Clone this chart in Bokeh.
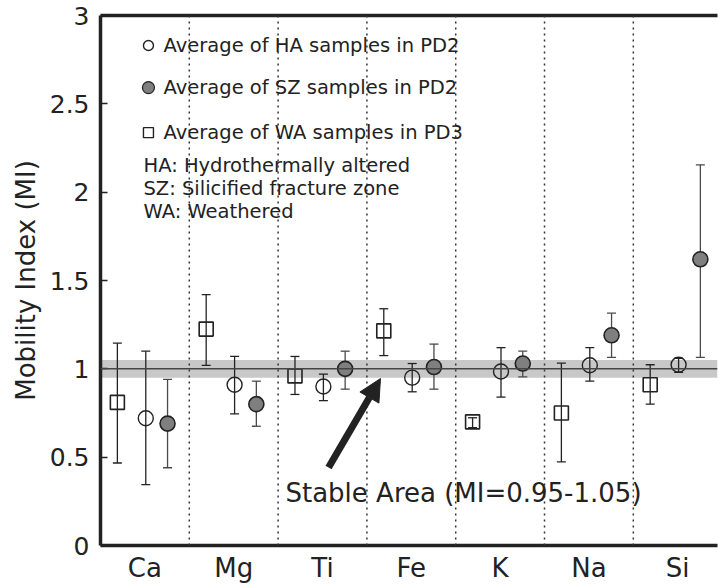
from bokeh.plotting import figure
from bokeh.models import (Range1d, FixedTicker, LinearAxis, Span, BoxAnnotation,
                          Whisker, TeeHead, Arrow, NormalHead, ColumnDataSource, Label)
from bokeh.embed import file_html
from bokeh.resources import INLINE

# ---------------- data ----------------
elements = ["Ca", "Mg", "Ti", "Fe", "K", "Na", "Si"]

ha_mean = [0.72, 0.91, 0.90, 0.95, 0.985, 1.02, 1.023]
ha_lo = [0.345, 0.745, 0.82, 0.87, 0.84, 0.93, 0.98]
ha_hi = [1.10, 1.07, 0.97, 1.03, 1.12, 1.12, 1.06]

sz_mean = [0.69, 0.80, 1.00, 1.01, 1.03, 1.19, 1.62]
sz_lo = [0.44, 0.675, 0.885, 0.885, 0.955, 1.065, 1.065]
sz_hi = [0.94, 0.93, 1.10, 1.14, 1.10, 1.315, 2.155]

wa_mean = [0.81, 1.225, 0.96, 1.215, 0.70, 0.75, 0.91]
wa_lo = [0.467, 1.02, 0.855, 1.075, 0.667, 0.473, 0.80]
wa_hi = [1.145, 1.42, 1.07, 1.34, 0.723, 1.032, 1.023]

y_ticks = [0, 0.5, 1, 1.5, 2, 2.5, 3]
y_tick_labels = ["0", "0.5", "1", "1.5", "2", "2.5", "3"]

stable_low, stable_high = 0.95, 1.05

legend_entries = ["Average of HA samples in PD2",
                  "Average of SZ samples in PD2",
                  "Average of WA samples in PD3"]
definitions = ["HA: Hydrothermally altered",
               "SZ: Silicified fracture zone",
               "WA: Weathered"]
stable_label = "Stable Area (MI=0.95-1.05)"

# ---------------- styling ----------------
FONT = "DejaVu Sans"
DARK = "#222222"
n = len(elements)
centers = [i + 0.5 for i in range(n)]
off_wa, off_ha, off_sz = -0.31, 0.01, 0.255

p = figure(width=719, height=588, output_backend="svg", toolbar_location=None,
           x_range=Range1d(0, 6.948), y_range=Range1d(0, 3),
           min_border_left=100, min_border_right=2, min_border_top=15,
           min_border_bottom=43)
p.outline_line_color = None
p.xgrid.visible = False
p.ygrid.visible = False
p.background_fill_color = "white"

# axes
xa = p.xaxis[0]
xa.ticker = FixedTicker(ticks=centers)
xa.major_label_overrides = {c: e for c, e in zip(centers, elements)}
xa.major_tick_line_color = None
xa.minor_tick_line_color = None
xa.axis_line_width = 3.5
xa.axis_line_color = DARK
xa.major_label_text_font = FONT
xa.major_label_text_font_size = "26px"
xa.major_label_text_color = DARK
xa.major_label_standoff = 1

ya = p.yaxis[0]
ya.ticker = FixedTicker(ticks=y_ticks)
ya.major_label_overrides = {t: l for t, l in zip(y_ticks, y_tick_labels)}
ya.major_tick_in = 7
ya.major_tick_out = 0
ya.major_tick_line_width = 1.5
ya.major_tick_line_color = DARK
ya.minor_tick_line_color = None
ya.axis_line_width = 3.5
ya.axis_line_color = DARK
ya.major_label_text_font = FONT
ya.major_label_text_font_size = "25px"
ya.major_label_text_color = DARK
ya.major_label_standoff = 11
ya.axis_label = "Mobility Index (MI)"
ya.axis_label_text_font = FONT
ya.axis_label_text_font_size = "26px"
ya.axis_label_text_font_style = "normal"
ya.axis_label_text_color = DARK
ya.axis_label_standoff = 6

top = LinearAxis(ticker=FixedTicker(ticks=[]), axis_line_width=3.5,
                 axis_line_color=DARK, major_tick_line_color=None,
                 minor_tick_line_color=None)
p.add_layout(top, "above")

# stable band and reference line
p.add_layout(BoxAnnotation(bottom=stable_low, top=stable_high,
                           fill_color="#c8c8c8", fill_alpha=1.0, line_color=None,
                           level="underlay"))
p.add_layout(Span(location=1.0, dimension="width", line_color="#444444",
                  line_width=1.5))

# dotted separators
for i in range(1, n):
    p.add_layout(Span(location=i, dimension="height", line_color="#333333",
                      line_width=1.5, line_dash="2 4"))

# sources
src_wa = ColumnDataSource(dict(x=[c + off_wa for c in centers], y=wa_mean,
                               lo=wa_lo, hi=wa_hi))
src_ha = ColumnDataSource(dict(x=[c + off_ha for c in centers], y=ha_mean,
                               lo=ha_lo, hi=ha_hi))
src_sz = ColumnDataSource(dict(x=[c + off_sz for c in centers], y=sz_mean,
                               lo=sz_lo, hi=sz_hi))

for src, col in ((src_wa, "#222222"), (src_ha, "#222222"), (src_sz, "#4a4a4a")):
    w = Whisker(source=src, base="x", lower="lo", upper="hi",
                line_color=col, line_width=1.3,
                upper_head=TeeHead(size=9, line_color=col, line_width=1.3),
                lower_head=TeeHead(size=9, line_color=col, line_width=1.3))
    p.add_layout(w)

p.scatter("x", "y", source=src_wa, marker="square", size=14,
          fill_color=None, line_color=DARK, line_width=1.6)
p.scatter("x", "y", source=src_ha, marker="circle", size=15,
          fill_color=None, line_color=DARK, line_width=1.4)
p.scatter("x", "y", source=src_sz, marker="circle", size=15,
          fill_color="#7f7f7f", line_color=DARK, line_width=1.6)

# legend (manual)
leg_y = [2.83, 2.592, 2.337]
leg_x_marker = 0.54
leg_x_text = 0.71
p.scatter([leg_x_marker], [leg_y[0]], marker="circle", size=10,
          fill_color=None, line_color=DARK, line_width=1.4)
p.scatter([leg_x_marker], [leg_y[1]], marker="circle", size=12,
          fill_color="#7f7f7f", line_color=DARK, line_width=1.2)
p.scatter([leg_x_marker], [leg_y[2]], marker="square", size=10,
          fill_color=None, line_color=DARK, line_width=1.4)
for txt, yy in zip(legend_entries, leg_y):
    p.add_layout(Label(x=leg_x_text, y=yy, text=txt, text_font=FONT,
                       text_font_size="19.5px", text_color=DARK,
                       text_baseline="middle", text_align="left"))
def_y = [2.15, 2.02, 1.89]
for txt, yy in zip(definitions, def_y):
    p.add_layout(Label(x=0.484, y=yy, text=txt, text_font=FONT,
                       text_font_size="19.5px", text_color=DARK,
                       text_baseline="middle", text_align="left"))

# arrow + stable label
p.add_layout(Arrow(x_start=2.568, y_start=0.441, x_end=3.153, y_end=0.945,
                   line_color=DARK, line_width=7,
                   end=NormalHead(size=22, fill_color=DARK, line_color=DARK)))
p.add_layout(Label(x=2.083, y=0.30, text=stable_label, text_font=FONT,
                   text_font_size="26px", text_color=DARK,
                   text_baseline="alphabetic", text_align="left"))

open("out.html", "w").write(file_html(p, INLINE))
